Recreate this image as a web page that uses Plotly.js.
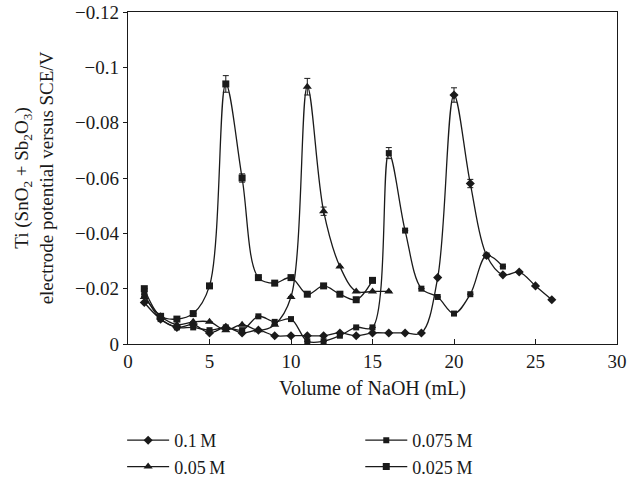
<!DOCTYPE html>
<html>
<head>
<meta charset="utf-8">
<script src="https://cdn.plot.ly/plotly-3.0.1.min.js"></script>
<style>html,body{margin:0;padding:0;background:#fff;}#chart{width:629px;height:480px;}</style>
</head>
<body>
<div id="chart"></div>
<script>
// Series names
const names = ["0.1\u2009M", "0.05\u2009M", "0.075\u2009M", "0.025\u2009M"];

// 0.1 M (diamonds)
const x01 = [1,2,3,4,5,6,7,8,9,10,11,12,13,14,15,16,17,18,19,20,21,22,23,24,25,26];
const y01 = [-0.015,-0.009,-0.006,-0.007,-0.004,-0.006,-0.004,-0.005,-0.003,-0.003,-0.003,-0.003,-0.004,-0.003,-0.004,-0.004,-0.004,-0.004,-0.024,-0.090,-0.058,-0.032,-0.025,-0.026,-0.021,-0.016];
const e01 = [null,null,null,null,null,null,null,null,null,null,null,null,null,null,null,null,null,null,null,0.0026,0.0015,null,null,null,null,null];

// 0.05 M (triangles)
const x005 = [1,2,3,4,5,6,7,8,9,10,11,12,13,14,15,16];
const y005 = [-0.017,-0.010,-0.007,-0.008,-0.008,-0.005,-0.007,-0.005,-0.007,-0.017,-0.093,-0.048,-0.028,-0.019,-0.019,-0.019];
const e005 = [null,null,null,null,null,null,null,null,null,null,0.003,0.0015,null,null,null,null];

// 0.075 M (small squares)
const x0075 = [1,2,3,4,5,6,7,8,9,10,11,12,13,14,15,16,17,18,19,20,21,22,23];
const y0075 = [-0.018,-0.009,-0.006,-0.006,-0.005,-0.006,-0.005,-0.010,-0.008,-0.009,-0.001,-0.001,-0.003,-0.006,-0.006,-0.069,-0.041,-0.020,-0.017,-0.011,-0.018,-0.032,-0.028];
const e0075 = [null,null,null,null,null,null,null,null,null,null,null,null,null,null,null,0.002,null,null,null,null,null,null,null];

// 0.025 M (large squares)
const x0025 = [1,2,3,4,5,6,7,8,9,10,11,12,13,14,15];
const y0025 = [-0.020,-0.010,-0.009,-0.011,-0.021,-0.094,-0.060,-0.024,-0.022,-0.024,-0.018,-0.021,-0.018,-0.016,-0.023];
const e0025 = [null,null,null,null,null,0.003,0.0015,null,null,null,null,null,null,null,null];

// Axis ticks
const yTickVals = [0,-0.02,-0.04,-0.06,-0.08,-0.1,-0.12];
const yTickText = ["0","\u22120.02","\u22120.04","\u22120.06","\u22120.08","\u22120.1","\u22120.12"];
const xTickVals = [0,5,10,15,20,25,30];

const ink = "#1a1a1a";
function mk(x, y, e, name, symbol, size, legend) {
  return {
    x: x, y: y, name: name, type: "scatter", mode: "lines+markers",
    line: {color: ink, width: 1.3, shape: "spline", smoothing: 1},
    marker: {symbol: symbol, size: size, color: ink},
    error_y: {type: "data", array: e, visible: true, color: ink, thickness: 1, width: 3},
    legend: legend
  };
}

const traces = [
  mk(x01, y01, e01, names[0], "diamond", 7, "legend"),
  mk(x005, y005, e005, names[1], "triangle-up", 8, "legend"),
  mk(x0075, y0075, e0075, names[2], "square", 6, "legend2"),
  mk(x0025, y0025, e0025, names[3], "square", 7, "legend2")
];

const font = {family: "Liberation Serif, Times New Roman, serif", size: 19, color: ink};
const titleFont = {family: "Liberation Serif, Times New Roman, serif", size: 20, color: ink};
const legFont = {family: "Liberation Serif, Times New Roman, serif", size: 18, color: ink};
const legCommon = {orientation: "v", xanchor: "left", yanchor: "top", font: legFont, bgcolor: "rgba(0,0,0,0)", tracegroupgap: 0, itemwidth: 42};

const layout = {
  width: 629, height: 480,
  margin: {l: 128, r: 12, t: 12, b: 136, autoexpand: false},
  paper_bgcolor: "#fff", plot_bgcolor: "#fff",
  font: font,
  showlegend: true,
  legend: Object.assign({x: -0.012, y: -0.235}, legCommon),
  legend2: Object.assign({x: 0.475, y: -0.235}, legCommon),
  xaxis: {
    range: [0, 30], tickvals: xTickVals, ticks: "inside", ticklen: 5, tickcolor: ink,
    showline: true, linecolor: ink, linewidth: 1.3, mirror: true,
    showgrid: false, zeroline: false, tickfont: font, automargin: false,
    title: {text: "Volume of NaOH (mL)", font: titleFont, standoff: 10}
  },
  yaxis: {
    range: [0, -0.12], tickvals: yTickVals, ticktext: yTickText, ticks: "outside", ticklen: 4, tickcolor: ink,
    showline: true, linecolor: ink, linewidth: 1.3, mirror: true,
    showgrid: false, zeroline: false, tickfont: font, automargin: false,
    title: {text: "Ti (SnO<sub>2</sub> + Sb<sub>2</sub>O<sub>3</sub>)<br>electrode potential versus SCE/V", font: font, standoff: 16}
  }
};

Plotly.newPlot("chart", traces, layout, {staticPlot: true, displayModeBar: false});
</script>
</body>
</html>
